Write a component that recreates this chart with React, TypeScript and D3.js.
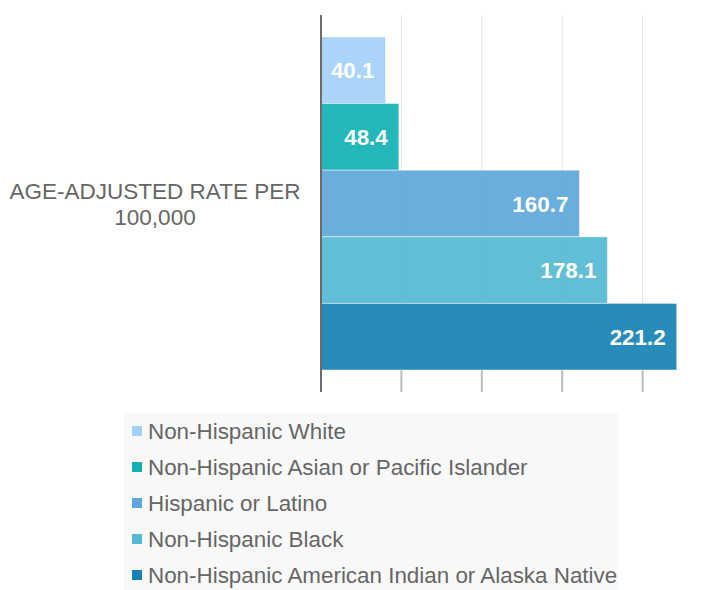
import React, { useEffect, useRef } from 'react';
import * as d3 from 'd3';

const groups = [
  'Non-Hispanic White',
  'Non-Hispanic Asian or Pacific Islander',
  'Hispanic or Latino',
  'Non-Hispanic Black',
  'Non-Hispanic American Indian or Alaska Native',
];
const rates = [40.1, 48.4, 160.7, 178.1, 221.2];
const colors = ['#a3d0f8', '#10b1b3', '#5da7da', '#54b9d4', '#1682b5'];
const gridTicks = [50, 100, 150, 200];
const axisLabel = ['AGE-ADJUSTED RATE PER', '100,000'];

const App = () => {
  const ref = useRef<SVGSVGElement>(null);

  useEffect(() => {
    const width = 719, height = 590;
    const font = '"Liberation Sans", Arial, sans-serif';
    const svg = d3.select(ref.current).attr('width', width).attr('height', height);
    svg.selectAll('*').remove();

    const x = d3.scaleLinear().domain([0, 250]).range([321, 723]);
    const y = d3.scaleBand().domain(groups).range([15, 392]).paddingInner(0).paddingOuter(0.33);
    const top = 15, bottom = 392, barBottom = y(groups[groups.length - 1])! + y.bandwidth();

    // grid lines + ticks
    svg.append('g').selectAll('line').data(gridTicks).join('line')
      .attr('x1', d => x(d)).attr('x2', d => x(d)).attr('y1', top).attr('y2', bottom)
      .attr('stroke', '#e2e2e2').attr('stroke-width', 1);
    svg.append('g').selectAll('line').data(gridTicks).join('line')
      .attr('x1', d => x(d)).attr('x2', d => x(d)).attr('y1', barBottom).attr('y2', bottom)
      .attr('stroke', '#bdbdbd').attr('stroke-width', 2);

    // bars
    svg.append('g').selectAll('rect').data(rates).join('rect')
      .attr('x', x(0)).attr('y', (d, i) => y(groups[i])!)
      .attr('width', d => x(d) - x(0)).attr('height', y.bandwidth())
      .attr('fill', (d, i) => colors[i]).attr('fill-opacity', 0.92)
      .attr('stroke', '#ffffff').attr('stroke-opacity', 0.45).attr('stroke-width', 1);

    // value labels
    svg.append('g').selectAll('text').data(rates).join('text')
      .attr('x', d => x(d) - 11).attr('y', (d, i) => y(groups[i])! + y.bandwidth() / 2 + 8)
      .attr('text-anchor', 'end').attr('fill', '#ffffff')
      .style('font-family', font).style('font-size', '22.4px').style('font-weight', 'bold')
      .text(d => d.toFixed(1));

    // axis line
    svg.append('line').attr('x1', x(0)).attr('x2', x(0)).attr('y1', top).attr('y2', bottom)
      .attr('stroke', '#6b6b6b').attr('stroke-width', 2);

    // category axis label
    svg.append('g').selectAll('text').data(axisLabel).join('text')
      .attr('x', 155).attr('y', (d, i) => 199 + i * 26)
      .attr('text-anchor', 'middle').attr('fill', '#666666')
      .style('font-family', font).style('font-size', '22.5px')
      .text(d => d);

    // legend
    const legend = svg.append('g');
    legend.append('rect').attr('x', 124).attr('y', 413).attr('width', 494).attr('height', 177).attr('fill', '#f8f8f8');
    const items = legend.selectAll('g').data(groups).join('g')
      .attr('transform', (d, i) => `translate(132, ${431 + i * 36})`);
    items.append('rect').attr('x', 0).attr('y', -5).attr('width', 10).attr('height', 10)
      .attr('fill', (d, i) => colors[i]);
    items.append('text').attr('x', 16).attr('y', 8).attr('fill', '#666666')
      .style('font-family', font).style('font-size', '22.4px')
      .text(d => d);
  }, []);

  return <svg ref={ref} style={{ position: 'absolute', left: 0, top: 0 }} />;
};

export default App;
